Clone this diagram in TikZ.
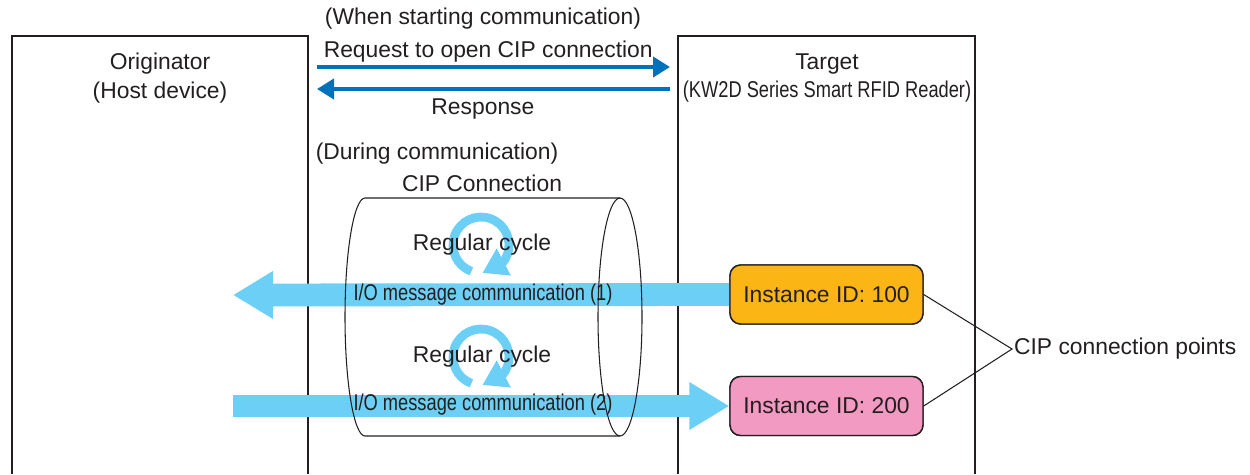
\documentclass[tikz,border=0pt]{standalone}
\usepackage{fontspec}
\setmainfont{Liberation Sans}
\newfontfamily\narrowsans[FakeStretch=0.8]{Liberation Sans}
\usetikzlibrary{arrows.meta,bending}
\definecolor{txtgray}{HTML}{231F20}
\definecolor{msgblue}{HTML}{0072BC}
\definecolor{iocyan}{HTML}{6CCFF6}
\definecolor{idorange}{HTML}{FBB616}
\definecolor{idpink}{HTML}{F39AC2}
\begin{document}
\begin{tikzpicture}[x=0.02cm, y=0.02cm, every node/.style={font=\fontsize{13}{16.4}\selectfont, text=txtgray},
  dev/.style={line width=1.1pt, draw=txtgray},
  msg/.style={-{Triangle[length=0.34cm,width=0.4cm]}, line width=2.3pt, msgblue},
  io/.style={-{Triangle[length=0.8cm,width=0.9cm]}, line width=13pt, iocyan},
  cyc/.style={-{Triangle[length=0.48cm,width=0.58cm,flex]}, line width=5pt, iocyan},
  idbox/.style={draw=txtgray, line width=0.8pt, rounded corners=6pt, minimum width=3.86cm, minimum height=1.18cm}]
  \useasboundingbox (0,0) rectangle (1250,-474);
  % Devices
  \draw[dev] (12,-474) -- (12,-36) -- (308,-36) -- (308,-474);
  \draw[dev] (678,-474) -- (678,-36) -- (975,-36) -- (975,-474);
  \node[align=center] (orig) at (160,-78) {Originator\\(Host device)};
  \node[align=center] (tgt) at (827,-78) {Target\\{\narrowsans (KW2D Series Smart RFID Reader)}};
  % Opening the connection
  \node (start) at (483,-19) {(When starting communication)};
  \coordinate (reqa) at (317,-67);
  \coordinate (reqb) at (670,-67);
  \coordinate (resa) at (670,-89);
  \coordinate (resb) at (317,-89);
  \draw[msg] (reqa) -- (reqb) node[pos=0.485,above=-2pt] (req) {Request to open CIP connection};
  \draw[msg] (resa) -- (resb) node[pos=0.53,below=1pt] (res) {Response};
  % During communication
  \node (during) at (437,-154) {(During communication)};
  \node (cipconn) at (482,-183) {CIP Connection};
  \node[idbox, fill=idorange] (inst1) at (826.5,-294.5) {Instance ID: 100};
  \node[idbox, fill=idpink] (inst2) at (826.5,-406) {Instance ID: 200};
  \coordinate (io1end) at (233,-295);
  \coordinate (io2start) at (233,-406);
  \draw[io] (inst1.west) -- (io1end);
  \draw[io] (io2start) -- (inst2.west);
  \draw[cyc] (481,-245) ++(250:28) arc[start angle=250, end angle=-87, radius=28];
  \draw[cyc] (481,-357) ++(250:28) arc[start angle=250, end angle=-87, radius=28];
  % Cylinder
  \draw[line width=0.6pt, txtgray] (620,-198) -- (365,-198) arc[start angle=90, end angle=270, x radius=20, y radius=119] -- (620,-436);
  \draw[line width=0.6pt, txtgray] (620,-317) ellipse[x radius=22, y radius=119];
  \node (cyc1) at (482,-245) {Regular cycle};
  \node (cyc2) at (482,-357) {Regular cycle};
  \node (io1) at (483,-295) {\narrowsans I/O message communication (1)};
  \node (io2) at (483,-405) {\narrowsans I/O message communication (2)};
  \node[idbox, fill=idorange] at (inst1) {Instance ID: 100};
  \node[idbox, fill=idpink] at (inst2) {Instance ID: 200};
  % Connection points
  \node[anchor=west, inner sep=1pt] (cpts) at (1012,-349) {CIP connection points};
  \draw[line width=0.6pt, txtgray] (inst1.east) -- (cpts.west) -- (inst2.east);
\end{tikzpicture}
\end{document}
